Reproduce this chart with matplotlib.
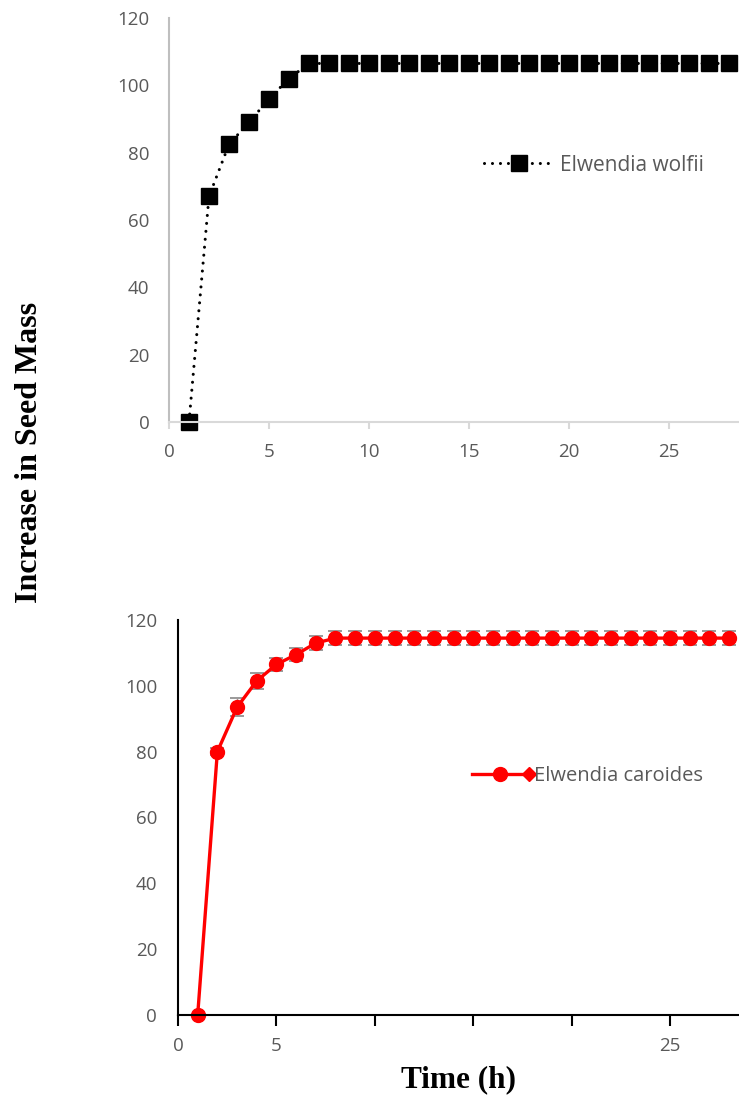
import matplotlib.pyplot as plt
from matplotlib.legend_handler import HandlerBase
from matplotlib.lines import Line2D

# ---------------------------------------------------------------------------
# Data
# ---------------------------------------------------------------------------
tiempo = list(range(1, 29))

masa_wolfii = [0, 67, 82.5, 89, 96, 102] + [106.5] * 22

masa_caroides = [0, 80, 93.5, 101.5, 106.5, 109.5, 113] + [114.5] * 21
error_caroides = [0, 1.0, 2.8, 2.4, 2.1, 2.1, 2.1] + [2.1] * 21

ticks_x = [0, 5, 10, 15, 20, 25]
etiquetas_x_abajo = ["0", "5", "", "", "", "25"]
ticks_y = [0, 20, 40, 60, 80, 100, 120]

GRIS_TEXTO = "#595959"
FUENTE_TICKS = "Open Sans"


class ManejadorCirculoRombo(HandlerBase):
    """Legend handle: red line, circle in the middle and a diamond at the end."""
    def create_artists(self, legend, orig_handle, xdescent, ydescent,
                       width, height, fontsize, trans):
        y = height / 2 - ydescent
        linea = Line2D([-xdescent, width - xdescent], [y, y], color="red", lw=2.4)
        circulo = Line2D([width * 0.45 - xdescent], [y], marker="o", ms=10,
                         color="red", lw=0)
        rombo = Line2D([width * 0.93 - xdescent], [y], marker="D", ms=7,
                       color="red", lw=0)
        for a in (linea, circulo, rombo):
            a.set_transform(trans)
        return [linea, circulo, rombo]


fig = plt.figure(figsize=(7.39, 10.97), dpi=100)

# ---------------------------------------------------------------------------
# Panel superior: Elwendia wolfii
# ---------------------------------------------------------------------------
ax1 = fig.add_axes([169 / 739, 1 - 422 / 1097, 570 / 739, 404 / 1097])
ax1.plot(tiempo, masa_wolfii, color="black", lw=2.2,
         linestyle=(0, (0.01, 2.6)), dash_capstyle="round",
         marker="s", ms=11, mec="black", mfc="black",
         label="Elwendia wolfii", clip_on=False)
ax1.set_xlim(0, 28.5)
ax1.set_ylim(0, 120)
ax1.set_xticks(ticks_x)
ax1.set_yticks(ticks_y)
for s in ("top", "right"):
    ax1.spines[s].set_visible(False)
ax1.spines["left"].set_color("#bfbfbf")
ax1.spines["bottom"].set_color("#d9d9d9")
ax1.spines["left"].set_linewidth(1.5)
ax1.spines["bottom"].set_linewidth(1.5)
ax1.tick_params(axis="x", direction="out", length=5, width=1.5, color="#d9d9d9",
                pad=10, labelsize=13.5, labelcolor=GRIS_TEXTO)
ax1.tick_params(axis="y", length=0, pad=14, labelsize=13.5, labelcolor=GRIS_TEXTO)
for t in ax1.get_xticklabels() + ax1.get_yticklabels():
    t.set_family(FUENTE_TICKS)
ax1.legend(loc="center left", bbox_to_anchor=(0.535, 0.636), frameon=False,
           numpoints=1, handlelength=3.3, handletextpad=0.35, borderpad=0,
           prop={"family": FUENTE_TICKS, "size": 15}, labelcolor=GRIS_TEXTO)

# ---------------------------------------------------------------------------
# Panel inferior: Elwendia caroides
# ---------------------------------------------------------------------------
ax2 = fig.add_axes([178 / 739, 1 - 1015 / 1097, 561 / 739, 395 / 1097])
ax2.errorbar(tiempo, masa_caroides, yerr=error_caroides, fmt="none",
             ecolor="#9a9a9a", elinewidth=1.0, capsize=5, capthick=1.4,
             zorder=1, clip_on=False)
linea_car, = ax2.plot(tiempo, masa_caroides, color="red", lw=2.4,
                      marker="o", ms=10, mec="red", mfc="red",
                      zorder=2, clip_on=False)
ax2.set_xlim(0, 28.5)
ax2.set_ylim(0, 120)
ax2.set_xticks(ticks_x)
ax2.set_xticklabels(etiquetas_x_abajo)
ax2.set_yticks(ticks_y)
for s in ("top", "right"):
    ax2.spines[s].set_visible(False)
ax2.spines["left"].set_linewidth(1.5)
ax2.spines["bottom"].set_linewidth(1.5)
ax2.tick_params(axis="x", direction="out", length=8, width=1.5, color="black",
                pad=8, labelsize=13.5, labelcolor=GRIS_TEXTO)
ax2.tick_params(axis="y", length=0, pad=15, labelsize=13.5, labelcolor=GRIS_TEXTO)
for t in ax2.get_xticklabels() + ax2.get_yticklabels():
    t.set_family(FUENTE_TICKS)
ax2.legend([linea_car], ["Elwendia caroides"],
           handler_map={linea_car: ManejadorCirculoRombo()},
           loc="center left", bbox_to_anchor=(0.507, 0.605), frameon=False,
           handlelength=3.0, handletextpad=0.05, borderpad=0,
           prop={"family": FUENTE_TICKS, "size": 14.5}, labelcolor=GRIS_TEXTO)
ax2.set_xlabel("Time (h)", family="Liberation Serif", fontweight="bold",
               fontsize=22.5, labelpad=7)

fig.text(30 / 739, 1 - 452 / 1097, "Increase in Seed Mass", rotation=90,
         ha="center", va="center", family="Liberation Serif",
         fontweight="bold", fontsize=23)

fig.savefig("out.png", dpi=100)
